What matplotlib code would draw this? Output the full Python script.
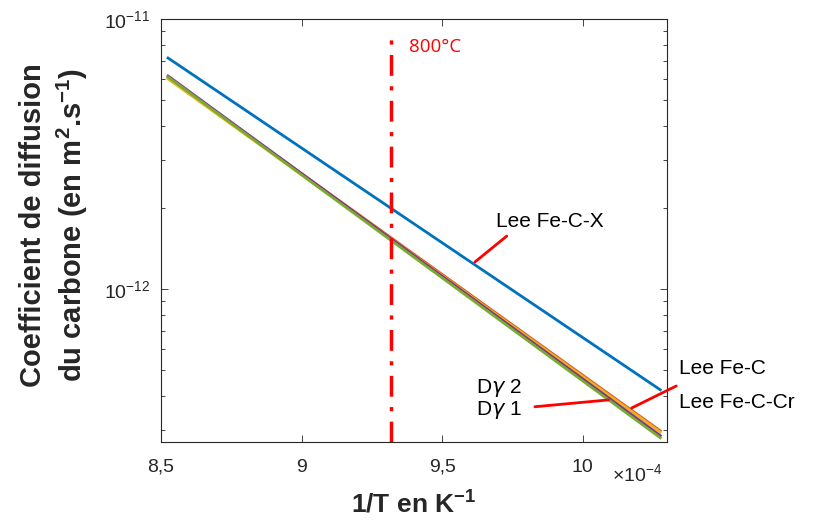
import matplotlib
matplotlib.use("Agg")
import matplotlib.pyplot as plt
from matplotlib.ticker import FixedLocator, NullFormatter

plt.rcParams['font.family'] = ['Liberation Sans', 'DejaVu Sans']
plt.rcParams['mathtext.default'] = 'regular'

# inverse temperature (x 1e-4 K^-1), 900 °C -> 700 °C
inv_t = [8.525, 10.276]

# diffusion coefficients (m2/s) read at both ends of each line
d_lee_fecx = [7.17e-12, 4.23e-13]
d_lee_fec = [6.05e-12, 2.98e-13]
d_lee_fecr = [6.0e-12, 2.95e-13]
d_gamma1 = [6.15e-12, 2.86e-13]
d_gamma2 = [6.1e-12, 2.81e-13]

inv_t_800 = 9.318

series = [
    (d_lee_fecx, '#0072BD'),
    (d_lee_fec, '#D95319'),
    (d_lee_fecr, '#EDB120'),
    (d_gamma1, '#7E2F8E'),
    (d_gamma2, '#77AC30'),
]

fig = plt.figure(figsize=(8.19, 5.22), dpi=100)
ax = fig.add_axes([0.1966, 0.1533, 0.6178, 0.8103])

for vals, col in series:
    ax.plot(inv_t, vals, color=col, lw=2)

ax.set_yscale('log')
ax.set_xlim(8.5, 10.3)
ax.set_ylim(2.71e-13, 1e-11)

# 800 °C marker
ax.plot([inv_t_800, inv_t_800], [2.71e-13, 8.6e-12], color='red', lw=2.5,
        linestyle=(0, (6, 3, 1.2, 3)))
ax.text(9.383, 7.88e-12, '800°C', color='red', fontsize=13.5,
        family=['Open Sans', 'DejaVu Sans'], va='center', ha='left')

# labels with pointers
red_line = dict(arrowstyle='-', color='red', lw=2, shrinkA=0, shrinkB=0)
ax.annotate('', xy=(9.617, 1.259e-12), xytext=(9.730, 1.57e-12), arrowprops=red_line)
ax.text(9.691, 1.77e-12, 'Lee Fe-C-X', fontsize=15, va='center', ha='left')

ax.annotate('', xy=(10.174, 3.62e-13), xytext=(10.333, 4.37e-13),
            arrowprops=red_line, annotation_clip=False)
ax.text(10.343, 5.08e-13, 'Lee Fe-C', fontsize=15, va='center', ha='left', clip_on=False)
ax.text(10.343, 3.78e-13, 'Lee Fe-C-Cr', fontsize=15, va='center', ha='left', clip_on=False)

ax.annotate('', xy=(10.092, 3.88e-13), xytext=(9.830, 3.66e-13), arrowprops=red_line)
ax.text(9.62, 4.3e-13, r'D$\mathit{\gamma}$ 2', fontsize=15, va='center', ha='left')
ax.text(9.62, 3.55e-13, r'D$\mathit{\gamma}$ 1', fontsize=15, va='center', ha='left')

# axes styling (MATLAB-like box)
ax.xaxis.set_major_locator(FixedLocator([8.5, 9, 9.5, 10]))
ax.set_xticklabels(['8,5', '9', '9,5', '10'])
ax.yaxis.set_major_locator(FixedLocator([1e-12, 1e-11]))
ax.set_yticklabels([r'10$^{-12}$', r'10$^{-11}$'])
minor = [k * 1e-13 for k in range(3, 10)] + [k * 1e-12 for k in range(2, 10)]
ax.yaxis.set_minor_locator(FixedLocator(minor))
ax.yaxis.set_minor_formatter(NullFormatter())
ax.tick_params(which='both', direction='in', top=True, right=True,
               labelsize=14, colors='#262626', width=0.6)
ax.tick_params(which='major', length=5)
ax.tick_params(which='minor', length=3)
ax.tick_params(axis='x', pad=12)
ax.tick_params(axis='y', pad=8)
for sp in ax.spines.values():
    sp.set_color('#262626')
    sp.set_linewidth(0.8)

ax.set_xlabel('1/T en K$^{-1}$', fontsize=19, fontweight='bold', color='#262626')
ax.xaxis.set_label_coords(0.5, -0.115)
ax.set_ylabel('Coefficient de diffusion\ndu carbone (en m$^2$.s$^{-1}$)',
              fontsize=21, fontweight='bold', color='#262626', linespacing=1.3)
ax.yaxis.set_label_coords(-0.14, 0.513)
ax.text(0.99, -0.075, r'$\times$10$^{-4}$', transform=ax.transAxes,
        fontsize=14, color='#262626', ha='right', va='center')

fig.savefig('out.png', dpi=100)
